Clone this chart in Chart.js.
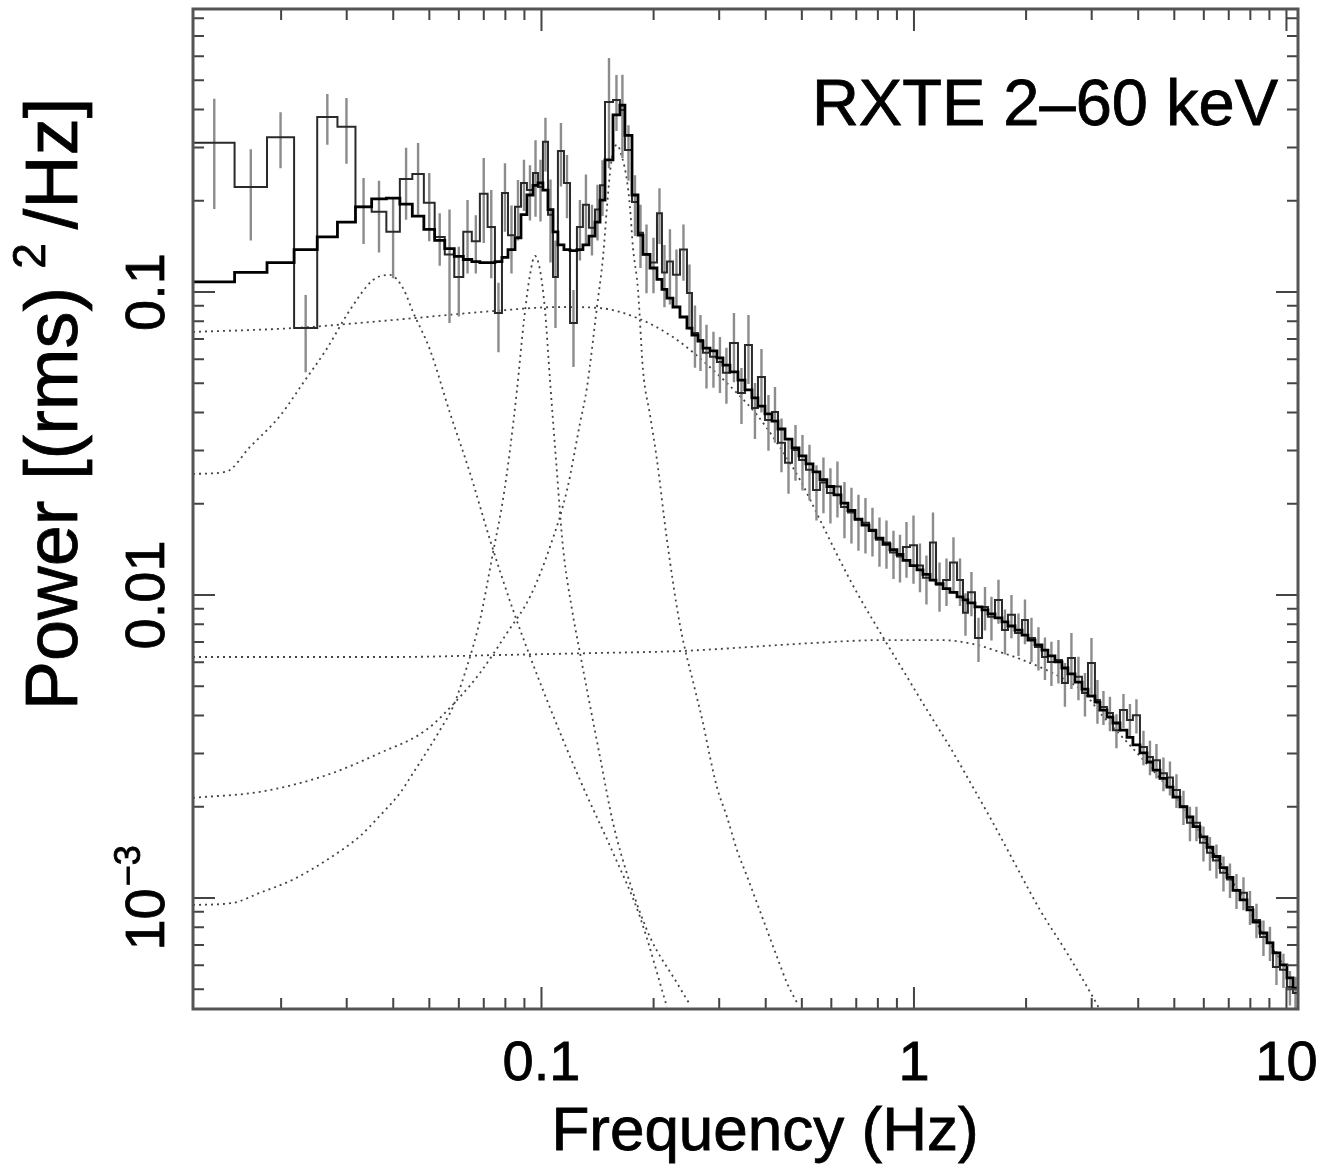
<!DOCTYPE html>
<html>
<head>
<meta charset="utf-8">
<script src="https://cdn.jsdelivr.net/npm/chart.js@4.4.1/dist/chart.umd.min.js"></script>
<style>
  html, body { margin: 0; padding: 0; background: #fff; }
</style>
</head>
<body>
<canvas id="graph" width="1334" height="1173"></canvas>
<script>
const ctx = document.getElementById('graph').getContext('2d');

// Frequency bin edges (Hz): linear at low frequency, logarithmic above ~0.08 Hz
const binEdges = [0.01167, 0.0150, 0.01833, 0.02167, 0.0250, 0.02833, 0.03167, 0.0350, 0.03833, 0.04167,
  0.0450, 0.04833, 0.05167, 0.0550, 0.05833, 0.06167, 0.0650, 0.06833, 0.07167, 0.0750, 0.07833,
  0.0813, 0.0849, 0.0881, 0.0914, 0.0949, 0.0979, 0.1009, 0.1041, 0.1074, 0.1107,
  0.1149, 0.1193, 0.1245, 0.1292, 0.1341, 0.1392, 0.1436, 0.1481, 0.1556, 0.1624,
  0.1675, 0.1750, 0.1816, 0.1873, 0.1956, 0.2042, 0.2106, 0.2172, 0.2254, 0.2354,
  0.2458, 0.2535, 0.2631, 0.2714, 0.2834, 0.2958, 0.3070, 0.3206, 0.3369, 0.3518,
  0.3673, 0.3812, 0.3981, 0.4157, 0.4315, 0.4506, 0.4705, 0.4913, 0.5130, 0.5357,
  0.5593, 0.5839, 0.6097, 0.6368, 0.6650, 0.6944, 0.7251, 0.7572, 0.7907, 0.8257,
  0.8622, 0.9003, 0.9344, 0.9757, 1.019, 1.057, 1.104, 1.146, 1.197, 1.249,
  1.305, 1.354, 1.396, 1.458, 1.523, 1.580, 1.650, 1.723, 1.788, 1.867,
  1.950, 2.023, 2.113, 2.206, 2.289, 2.390, 2.496, 2.590, 2.705, 2.825,
  2.932, 3.061, 3.157, 3.297, 3.421, 3.573, 3.731, 3.871, 4.043, 4.222,
  4.381, 4.575, 4.777, 4.958, 5.177, 5.406, 5.610, 5.859, 6.118, 6.349,
  6.630, 6.923, 7.185, 7.503, 7.834, 8.130, 8.490, 8.865, 9.199, 9.607,
  10.03, 10.41, 10.74];

// Measured power, (rms)^2/Hz
const power = [0.311, 0.222, 0.324, 0.0760, 0.378, 0.351, 0.191, 0.184, 0.158, 0.236,
  0.245, 0.197, 0.152, 0.133, 0.112, 0.158, 0.147, 0.211, 0.164, 0.0852,
  0.212, 0.154, 0.191, 0.229, 0.217, 0.247, 0.222, 0.313, 0.180, 0.112,
  0.292, 0.229, 0.0790, 0.164, 0.194, 0.163, 0.187, 0.225, 0.424, 0.430,
  0.399, 0.294, 0.198, 0.157, 0.133, 0.125, 0.182, 0.116, 0.126, 0.114,
  0.138, 0.0992, 0.0732, 0.0694, 0.0630, 0.0611, 0.0587, 0.0541, 0.0678, 0.0464,
  0.0668, 0.0414, 0.0524, 0.0378, 0.0402, 0.0318, 0.0273, 0.0301, 0.0279, 0.0259,
  0.0222, 0.0235, 0.0217, 0.0228, 0.0195, 0.0187, 0.0177, 0.0173, 0.0164, 0.0152,
  0.0149, 0.0138, 0.0134, 0.0144, 0.0146, 0.0125, 0.0114, 0.0149, 0.0108, 0.0112,
  0.0128, 0.0112, 0.00873, 0.0102, 0.00721, 0.00913, 0.00847, 0.00963, 0.00766, 0.0086,
  0.00749, 0.00827, 0.00721, 0.00673, 0.00624, 0.00601, 0.0061, 0.00512, 0.00619, 0.00537,
  0.00475, 0.00596, 0.0045, 0.00427, 0.00408, 0.00358, 0.00417, 0.00387, 0.00401, 0.00315,
  0.00292, 0.00285, 0.00258, 0.0025, 0.00227, 0.0020, 0.00177, 0.00177, 0.00152, 0.00141,
  0.00133, 0.00121, 0.00115, 0.00106, 0.00104, 0.000934, 0.000846, 0.000743, 0.000711, 0.000592,
  0.000579, 0.000508, 0.000486];

// 1-sigma errors on the measured power
const powerErr = [0.123, 0.074, 0.068, 0.0217, 0.072, 0.086, 0.047, 0.049, 0.047, 0.063,
  0.065, 0.050, 0.030, 0.054, 0.029, 0.043, 0.032, 0.066, 0.053, 0.022,
  0.054, 0.039, 0.043, 0.044, 0.045, 0.070, 0.051, 0.063, 0.055, 0.036,
  0.069, 0.054, 0.0225, 0.037, 0.050, 0.031, 0.039, 0.047, 0.168, 0.090,
  0.122, 0.061, 0.045, 0.037, 0.034, 0.026, 0.038, 0.027, 0.035, 0.024,
  0.029, 0.024, 0.017, 0.0145, 0.015, 0.0128, 0.0123, 0.0113, 0.0174, 0.0097,
  0.0171, 0.0087, 0.0124, 0.0079, 0.0084, 0.0064, 0.0057, 0.0063, 0.0058, 0.0054,
  0.0046, 0.0049, 0.0045, 0.0048, 0.0041, 0.0039, 0.0037, 0.0036, 0.0030, 0.0028,
  0.0027, 0.0025, 0.0024, 0.0030, 0.0037, 0.0023, 0.0021, 0.0038, 0.0020, 0.0020,
  0.0027, 0.0020, 0.0014, 0.0017, 0.0012, 0.0015, 0.0014, 0.0016, 0.0013, 0.0014,
  0.0012, 0.0014, 0.0012, 0.0011, 0.0010, 0.0010, 0.0010, 0.00084, 0.0013, 0.00088,
  0.00078, 0.00125, 0.00074, 0.00055, 0.00053, 0.00046, 0.00054, 0.0005, 0.00052, 0.00041,
  0.00038, 0.00037, 0.00033, 0.00032, 0.00029, 0.00026, 0.00023, 0.00023, 0.0002, 0.00018,
  0.00017, 0.00016, 0.00015, 0.00014, 0.00013, 0.00012, 0.00011, 0.0001, 0.000092, 0.000076,
  0.000075, 0.000066, 0.000063];

// Best-fit model per bin
const model = [0.108, 0.116, 0.125, 0.138, 0.152, 0.170, 0.191, 0.203, 0.204, 0.195,
  0.178, 0.161, 0.148, 0.139, 0.131, 0.128, 0.126, 0.125, 0.125, 0.126,
  0.130, 0.138, 0.151, 0.180, 0.209, 0.225, 0.229, 0.217, 0.187, 0.158,
  0.143, 0.138, 0.137, 0.138, 0.143, 0.153, 0.170, 0.201, 0.273, 0.384,
  0.414, 0.329, 0.209, 0.154, 0.133, 0.120, 0.110, 0.102, 0.0955, 0.0892,
  0.0827, 0.0760, 0.0721, 0.0689, 0.0653, 0.0639, 0.0606, 0.0574, 0.0545, 0.0512,
  0.0475, 0.0447, 0.0420, 0.0396, 0.0375, 0.0353, 0.0327, 0.0306, 0.0288, 0.0271,
  0.0255, 0.0240, 0.0228, 0.0214, 0.0201, 0.0190, 0.0178, 0.0170, 0.0163, 0.0154,
  0.0147, 0.0141, 0.0136, 0.0130, 0.0125, 0.0121, 0.0117, 0.0112, 0.0109, 0.0105,
  0.0102, 0.00986, 0.00963, 0.00941, 0.00913, 0.00893, 0.00866, 0.0084, 0.00815, 0.0079,
  0.00766, 0.00737, 0.0071, 0.00684, 0.00658, 0.00629, 0.00601, 0.00574, 0.00549, 0.00516,
  0.00489, 0.00464, 0.00443, 0.00417, 0.00395, 0.00378, 0.00358, 0.00339, 0.0032, 0.00301,
  0.00281, 0.00264, 0.00248, 0.00232, 0.00215, 0.0020, 0.00185, 0.00172, 0.00159, 0.00147,
  0.00137, 0.00126, 0.00117, 0.00106, 0.000985, 0.000913, 0.000833, 0.000766, 0.000711, 0.000659,
  0.000601, 0.000545, 0.000504];

// Model components (dotted Lorentzians)
const compAFreq = [0.0116, 0.02153, 0.0399, 0.0741, 0.1121, 0.1436, 0.1838, 0.2254, 0.2505, 0.2887,
  0.3348, 0.3788, 0.4288, 0.4943, 0.5593, 0.6328, 0.7031, 0.8257, 0.9577, 1.084,
  1.249, 1.440, 1.630, 1.890, 2.179, 2.574, 3.023, 3.157];
const compAPower = [0.0738, 0.0760, 0.0808, 0.0865, 0.0892, 0.0885, 0.0814, 0.0710, 0.0644, 0.0553,
  0.0464, 0.0393, 0.0318, 0.0240, 0.0177, 0.0130, 0.01017, 0.00726, 0.00537, 0.00417,
  0.00315, 0.00232, 0.00177, 0.00126, 0.000913, 0.000659, 0.000471, 0.000427];

const compBFreq = [0.0116, 0.0399, 0.0741, 0.1375, 0.2354, 0.5357, 0.8257, 1.174, 1.440, 1.702,
  1.926, 2.179, 2.465, 2.842, 3.217, 3.731, 4.301, 4.867, 5.507, 6.118,
  6.923, 7.834, 8.57, 9.607, 10.74];
const compBPower = [0.00624, 0.00624, 0.00633, 0.00643, 0.00653, 0.00694, 0.0071, 0.0071, 0.00689, 0.00648,
  0.00615, 0.00578, 0.00537, 0.00479, 0.00398, 0.00327, 0.0027, 0.00227, 0.00182, 0.00152,
  0.00121, 0.000948, 0.000772, 0.000624, 0.000497];

const compCFreq = [0.0116, 0.01422, 0.0165, 0.01986, 0.02289, 0.0264, 0.03061, 0.03529, 0.0392, 0.04248,
  0.04519, 0.05021, 0.05679, 0.06426, 0.07275, 0.08385, 0.1009, 0.1269, 0.1556, 0.1838, 0.2172];
const compCPower = [0.0251, 0.0255, 0.0308, 0.0390, 0.0500, 0.0644, 0.0872, 0.1095, 0.1138, 0.1030,
  0.0859, 0.0644, 0.0399, 0.0253, 0.0152, 0.00893, 0.00486, 0.00245, 0.00141, 0.000866, 0.000437];

const compDFreq = [0.0116, 0.01485, 0.01755, 0.02153, 0.0264, 0.03257, 0.03685, 0.04171, 0.04519, 0.04897,
  0.05339, 0.05784, 0.06269, 0.06838, 0.0741, 0.0788, 0.08231, 0.08594, 0.08975, 0.09314,
  0.09607, 0.09908, 0.1022, 0.1054, 0.1094, 0.1142, 0.1208, 0.1269, 0.1325, 0.1436,
  0.1556, 0.1728, 0.1956, 0.2311, 0.2505];
const compDPower = [0.000948, 0.000963, 0.00104, 0.00115, 0.00133, 0.00160, 0.00187, 0.00222, 0.00258, 0.00301,
  0.00358, 0.00427, 0.00566, 0.00827, 0.01378, 0.0206, 0.0301, 0.0475, 0.0808, 0.1138,
  0.1315, 0.1182, 0.0872, 0.0512, 0.0279, 0.01441, 0.00893, 0.00643, 0.00486, 0.00292,
  0.00177, 0.00112, 0.000743, 0.000524, 0.000444];

const compEFreq = [0.0116, 0.01755, 0.0264, 0.03685, 0.04897, 0.06043, 0.06838, 0.0808, 0.09314, 0.1054,
  0.1171, 0.1269, 0.1325, 0.1409, 0.1463, 0.1499, 0.1527, 0.1556, 0.1595, 0.1645,
  0.1696, 0.1728, 0.1760, 0.1816, 0.1873, 0.1956, 0.2042, 0.2172, 0.2354, 0.2584,
  0.2714, 0.2834, 0.2958, 0.3148, 0.3348, 0.3562, 0.3788, 0.4031, 0.4288, 0.4561, 0.4852];
const compEPower = [0.00214, 0.00224, 0.00254, 0.00301, 0.00358, 0.00461, 0.00553, 0.00749, 0.00986, 0.01441,
  0.0222, 0.0369, 0.0485, 0.0892, 0.1305, 0.1906, 0.2473, 0.2896, 0.3061, 0.2788,
  0.2340, 0.1906, 0.1407, 0.1015, 0.0553, 0.0393, 0.0279, 0.0152, 0.00796, 0.00486,
  0.00378, 0.00292, 0.00232, 0.00185, 0.00144, 0.00118, 0.000963, 0.000784, 0.000639, 0.000524, 0.000451];

// Axis ranges and ticks
const xRange = [0.0116, 10.74];
const yRange = [0.00043, 0.859];
const xMajorTicks = [0.1, 1, 10];
const xTickLabels = ['0.1', '1', '10'];
const xMinorTicks = [0.02, 0.03, 0.04, 0.05, 0.06, 0.07, 0.08, 0.09,
  0.2, 0.3, 0.4, 0.5, 0.6, 0.7, 0.8, 0.9, 2, 3, 4, 5, 6, 7, 8, 9];
const yMajorTicks = [0.001, 0.01, 0.1];
const yTickLabels = [['10', '\u22123'], ['0.01', ''], ['0.1', '']];
const yMinorTicks = [0.0005, 0.0006, 0.0007, 0.0008, 0.0009,
  0.002, 0.003, 0.004, 0.005, 0.006, 0.007, 0.008, 0.009,
  0.02, 0.03, 0.04, 0.05, 0.06, 0.07, 0.08, 0.09,
  0.2, 0.3, 0.4, 0.5, 0.6, 0.7, 0.8];

const FONT = '"Liberation Sans", Arial, Helvetica, sans-serif';

// histogram as a step line over the bin edges
function stepPoints(values) {
  const pts = [];
  values.forEach((v, i) => {
    pts.push({ x: binEdges[i], y: v });
    pts.push({ x: binEdges[i + 1], y: v });
  });
  return pts;
}

// vertical error bars at bin centres, separated by gaps
function errorBarPoints() {
  const pts = [];
  power.forEach((v, i) => {
    const xc = Math.sqrt(binEdges[i] * binEdges[i + 1]);
    pts.push({ x: xc, y: v - powerErr[i] });
    pts.push({ x: xc, y: v + powerErr[i] });
    pts.push({ x: xc, y: null });
  });
  return pts;
}

function curvePoints(freqs, vals) {
  return freqs.map((f, i) => ({ x: f, y: vals[i] }));
}

function componentDataset(freqs, vals) {
  return {
    data: curvePoints(freqs, vals),
    showLine: true,
    borderColor: '#444',
    borderWidth: 1.8,
    borderDash: [2, 4],
    pointRadius: 0,
    cubicInterpolationMode: 'monotone',
    order: 4,
  };
}

// text with a light outline so it reads as heavy as the original
function heavyText(c, str, x, y) {
  c.fillText(str, x, y);
  c.strokeText(str, x, y);
}

// frame, inward ticks on all sides and the text
const frameAndText = {
  id: 'frameAndText',
  beforeDraw(chart) {
    const c = chart.ctx;
    c.save();
    c.fillStyle = '#fff';
    c.fillRect(0, 0, chart.width, chart.height);
    c.restore();
  },
  afterDatasetsDraw(chart) {
    const c = chart.ctx;
    const a = chart.chartArea;
    const xs = chart.scales.x;
    const ys = chart.scales.y;
    c.save();
    c.strokeStyle = '#444';
    c.lineWidth = 2;
    const xTick = (v, len) => {
      const px = xs.getPixelForValue(v);
      c.beginPath();
      c.moveTo(px, a.bottom); c.lineTo(px, a.bottom - len);
      c.moveTo(px, a.top); c.lineTo(px, a.top + len);
      c.stroke();
    };
    const yTick = (v, len) => {
      const py = ys.getPixelForValue(v);
      c.beginPath();
      c.moveTo(a.left, py); c.lineTo(a.left + len, py);
      c.moveTo(a.right, py); c.lineTo(a.right - len, py);
      c.stroke();
    };
    xMinorTicks.forEach(v => xTick(v, 11));
    xMajorTicks.forEach(v => xTick(v, 22));
    yMinorTicks.forEach(v => yTick(v, 11));
    yMajorTicks.forEach(v => yTick(v, 22));
    c.strokeStyle = '#555';
    c.lineWidth = 3;
    c.strokeRect(a.left, a.top, a.right - a.left, a.bottom - a.top);

    c.fillStyle = '#000';
    c.strokeStyle = '#000';
    c.lineWidth = 0.8;
    c.textBaseline = 'alphabetic';

    // x tick labels
    c.font = '56px ' + FONT;
    c.textAlign = 'center';
    xMajorTicks.forEach((v, i) => {
      heavyText(c, xTickLabels[i], xs.getPixelForValue(v), 1080);
    });

    // x title
    c.font = '62px ' + FONT;
    heavyText(c, 'Frequency (Hz)', 765, 1150);

    // y tick labels, rotated
    yMajorTicks.forEach((v, i) => {
      const [base, sup] = yTickLabels[i];
      c.save();
      c.translate(164, ys.getPixelForValue(v));
      c.rotate(-Math.PI / 2);
      c.textAlign = 'left';
      c.font = '56px ' + FONT;
      const wb = c.measureText(base).width;
      c.font = '36px ' + FONT;
      const ws = sup ? c.measureText(sup).width + 2 : 0;
      const x0 = -(wb + ws) / 2;
      c.font = '56px ' + FONT;
      heavyText(c, base, x0, 0);
      if (sup) {
        c.font = '36px ' + FONT;
        heavyText(c, sup, x0 + wb + 2, -24);
      }
      c.restore();
    });

    // y title, rotated, with superscript
    const parts = [
      { t: 'Power [(rms)', s: 74, r: 0, gap: 18 },
      { t: '2', s: 46, r: -32, gap: 14 },
      { t: '/Hz]', s: 74, r: 0, gap: 0 },
    ];
    c.save();
    c.translate(77, 404);
    c.rotate(-Math.PI / 2);
    c.textAlign = 'left';
    let total = 0;
    parts.forEach(p => { c.font = p.s + 'px ' + FONT; p.w = c.measureText(p.t).width; total += p.w + p.gap; });
    let xp = -total / 2;
    parts.forEach(p => {
      c.font = p.s + 'px ' + FONT;
      heavyText(c, p.t, xp, p.r);
      xp += p.w + p.gap;
    });
    c.restore();

    // instrument label
    c.font = '65px ' + FONT;
    c.textAlign = 'right';
    heavyText(c, 'RXTE 2\u201360 keV', 1278, 125);
    c.restore();
  },
};

const chart = new Chart(ctx, {
  type: 'scatter',
  data: {
    datasets: [
      {
        label: 'Model',
        data: stepPoints(model),
        showLine: true,
        borderColor: '#000',
        borderWidth: 2.8,
        pointRadius: 0,
        order: 1,
      },
      {
        label: 'Data',
        data: stepPoints(power),
        showLine: true,
        borderColor: '#2a2a2a',
        borderWidth: 2,
        pointRadius: 0,
        order: 2,
      },
      {
        label: 'Errors',
        data: errorBarPoints(),
        showLine: true,
        spanGaps: false,
        borderColor: '#8c8c8c',
        borderWidth: 2.4,
        pointRadius: 0,
        order: 3,
      },
      componentDataset(compAFreq, compAPower),
      componentDataset(compBFreq, compBPower),
      componentDataset(compCFreq, compCPower),
      componentDataset(compDFreq, compDPower),
      componentDataset(compEFreq, compEPower),
    ],
  },
  options: {
    responsive: false,
    animation: false,
    devicePixelRatio: 1,
    layout: { padding: { left: 193, right: 36, top: 9, bottom: 164 } },
    plugins: { legend: { display: false }, tooltip: { enabled: false } },
    scales: {
      x: { type: 'logarithmic', min: xRange[0], max: xRange[1], display: false },
      y: { type: 'logarithmic', min: yRange[0], max: yRange[1], display: false },
    },
  },
  plugins: [frameAndText],
});
</script>
</body>
</html>
